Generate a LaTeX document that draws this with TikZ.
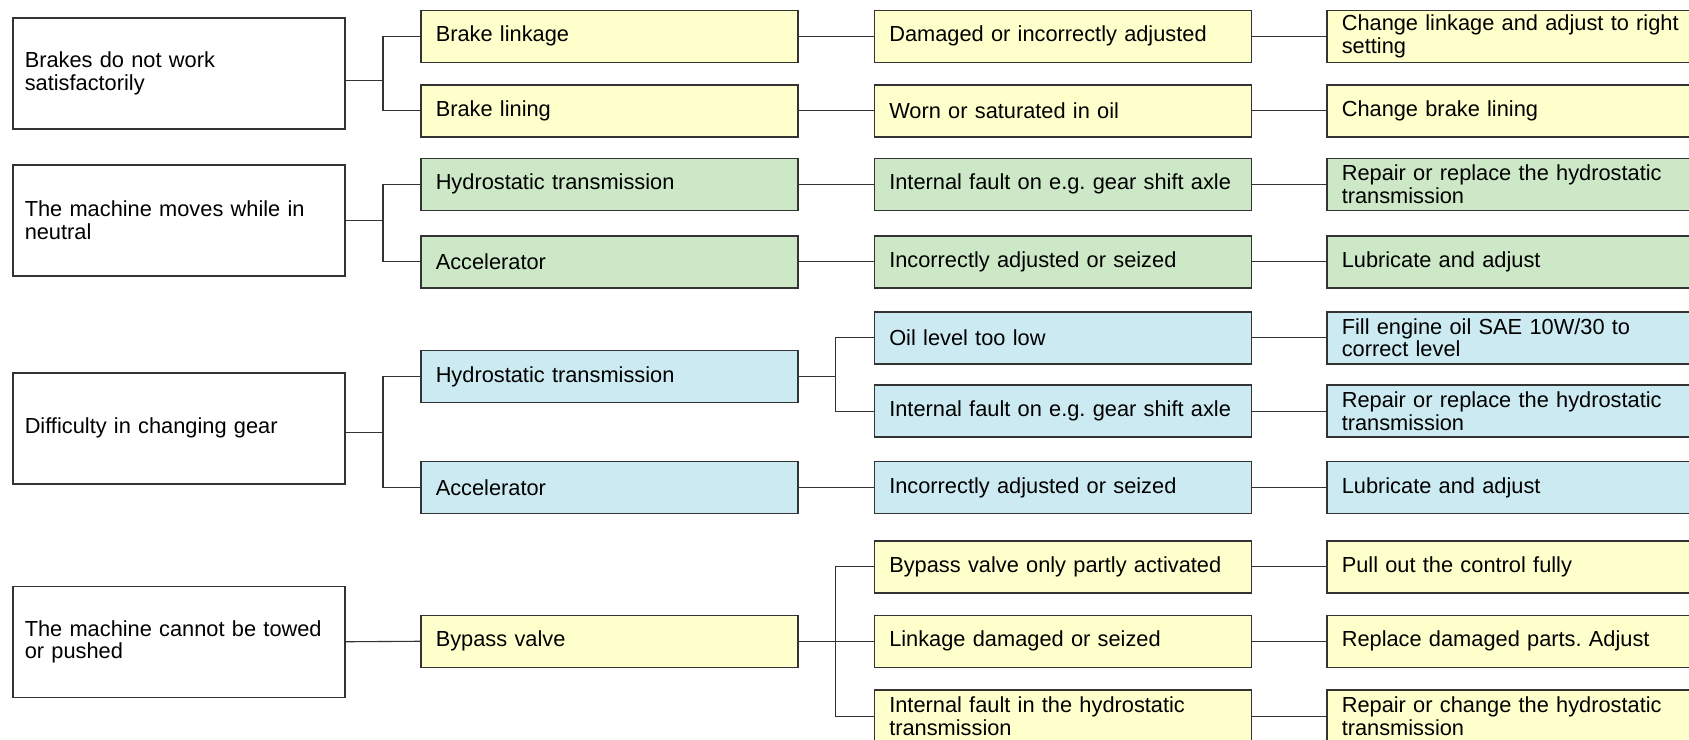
\documentclass[tikz,border=0pt]{standalone}
\usepackage{fontspec}
\setmainfont{Liberation Sans}
\usepackage{tikz}
\usetikzlibrary{positioning}
\definecolor{boxline}{HTML}{333333}
\definecolor{yfill}{HTML}{FFFFCC}
\definecolor{gfill}{HTML}{CCE8C6}
\definecolor{bfill}{HTML}{CCEAF1}
\tikzset{
  link/.style={draw=boxline, line width=0.55pt},
  probbox/.style={draw=boxline, line width=0.75pt, fill=white, anchor=north west, inner xsep=6pt, inner ysep=1pt, text width=154pt, minimum height=55.5pt, align=left},
  causebox/.style={draw=boxline, line width=0.75pt, anchor=north west, inner xsep=7.5pt, inner ysep=1pt, text width=173.5pt, minimum height=26pt, align=left},
  yellowbox/.style={causebox, fill=yfill},
  greenbox/.style={causebox, fill=gfill},
  bluebox/.style={causebox, fill=bfill}
}
\frenchspacing

\begin{document}
\begin{tikzpicture}[x=0.5pt, y=-0.5pt, every node/.style={font=\fontsize{10.9}{11.35}\selectfont}]
  \useasboundingbox (0,0) rectangle (1689,739);
  \clip (0,0) rectangle (1689,739);
  % faults
  \node[probbox] (prob1) at (12,17.3) {Brakes do not work\\satisfactorily};
  \node[probbox] (prob2) at (12,164) {The machine moves while in\\neutral};
  \node[probbox] (prob3) at (12,372) {Difficulty in changing gear};
  \node[probbox] (prob4) at (12,585.5) {The machine cannot be towed\\or pushed};
  % components
  \node[yellowbox] (part1a) at (420,9.5) {Brake linkage};
  \node[yellowbox] (part1b) at (420,84) {Brake lining};
  \node[greenbox] (part2a) at (420,157.5) {Hydrostatic transmission};
  \node[greenbox] (part2b) at (420,235) {Accelerator};
  \node[bluebox] (part3a) at (420,349.7) {Hydrostatic transmission};
  \node[bluebox] (part3b) at (420,460.7) {Accelerator};
  \node[yellowbox] (part4) at (420,614.5) {Bypass valve};
  % causes
  \node[yellowbox] (cause1a) at (873.5,9.5) {Damaged or incorrectly adjusted};
  \node[yellowbox] (cause1b) at (873.5,84) {Worn or saturated in oil};
  \node[greenbox] (cause2a) at (873.5,157.5) {Internal fault on e.g. gear shift axle};
  \node[greenbox] (cause2b) at (873.5,235) {Incorrectly adjusted or seized};
  \node[bluebox] (cause3a) at (873.5,311) {Oil level too low};
  \node[bluebox] (cause3b) at (873.5,384.3) {Internal fault on e.g. gear shift axle};
  \node[bluebox] (cause3c) at (873.5,460.7) {Incorrectly adjusted or seized};
  \node[yellowbox] (cause4a) at (873.5,540) {Bypass valve only partly activated};
  \node[yellowbox] (cause4b) at (873.5,614.5) {Linkage damaged or seized};
  \node[yellowbox] (cause4c) at (873.5,689.3) {Internal fault in the hydrostatic\\transmission};
  % remedies
  \node[yellowbox] (fix1a) at (1326,9.5) {Change linkage and adjust to right\\setting};
  \node[yellowbox] (fix1b) at (1326,84) {Change brake lining};
  \node[greenbox] (fix2a) at (1326,157.5) {Repair or replace the hydrostatic\\transmission};
  \node[greenbox] (fix2b) at (1326,235) {Lubricate and adjust};
  \node[bluebox] (fix3a) at (1326,311) {Fill engine oil SAE 10W/30 to\\correct level};
  \node[bluebox] (fix3b) at (1326,384.3) {Repair or replace the hydrostatic\\transmission};
  \node[bluebox] (fix3c) at (1326,460.7) {Lubricate and adjust};
  \node[yellowbox] (fix4a) at (1326,540) {Pull out the control fully};
  \node[yellowbox] (fix4b) at (1326,614.5) {Replace damaged parts. Adjust};
  \node[yellowbox] (fix4c) at (1326,689.3) {Repair or change the hydrostatic\\transmission};
  % forks
  \coordinate (fork1) at (383,80.7);
  \coordinate (fork2) at (383,220.7);
  \coordinate (fork3) at (383,432.7);
  \coordinate[right=18.7pt of part3a.east] (fork3h);
  \coordinate[right=18.7pt of part4.east] (fork4);
  \draw[link] (prob1.east |- fork1) -- (fork1);
  \draw[link] (part1a.west) -| (fork1) |- (part1b.west);
  \draw[link] (prob2.east |- fork2) -- (fork2);
  \draw[link] (part2a.west) -| (fork2) |- (part2b.west);
  \draw[link] (prob3.east |- fork3) -- (fork3);
  \draw[link] (part3a.west) -| (fork3) |- (part3b.west);
  \draw[link] (prob4.east) -- (part4.west);
  \draw[link] (part3a.east) -- (fork3h);
  \draw[link] (cause3a.west) -| (fork3h) |- (cause3b.west);
  \draw[link] (part4.east) -- (fork4);
  \draw[link] (cause4a.west) -| (fork4) |- (cause4c.west);
  \draw[link] (fork4) -- (cause4b.west);
  % component to cause
  \draw[link] (part1a) -- (cause1a);
  \draw[link] (part1b) -- (cause1b);
  \draw[link] (part2a) -- (cause2a);
  \draw[link] (part2b) -- (cause2b);
  \draw[link] (part3b) -- (cause3c);
  % cause to remedy
  \draw[link] (cause1a) -- (fix1a);
  \draw[link] (cause1b) -- (fix1b);
  \draw[link] (cause2a) -- (fix2a);
  \draw[link] (cause2b) -- (fix2b);
  \draw[link] (cause3a) -- (fix3a);
  \draw[link] (cause3b) -- (fix3b);
  \draw[link] (cause3c) -- (fix3c);
  \draw[link] (cause4a) -- (fix4a);
  \draw[link] (cause4b) -- (fix4b);
  \draw[link] (cause4c) -- (fix4c);
\end{tikzpicture}
\end{document}
